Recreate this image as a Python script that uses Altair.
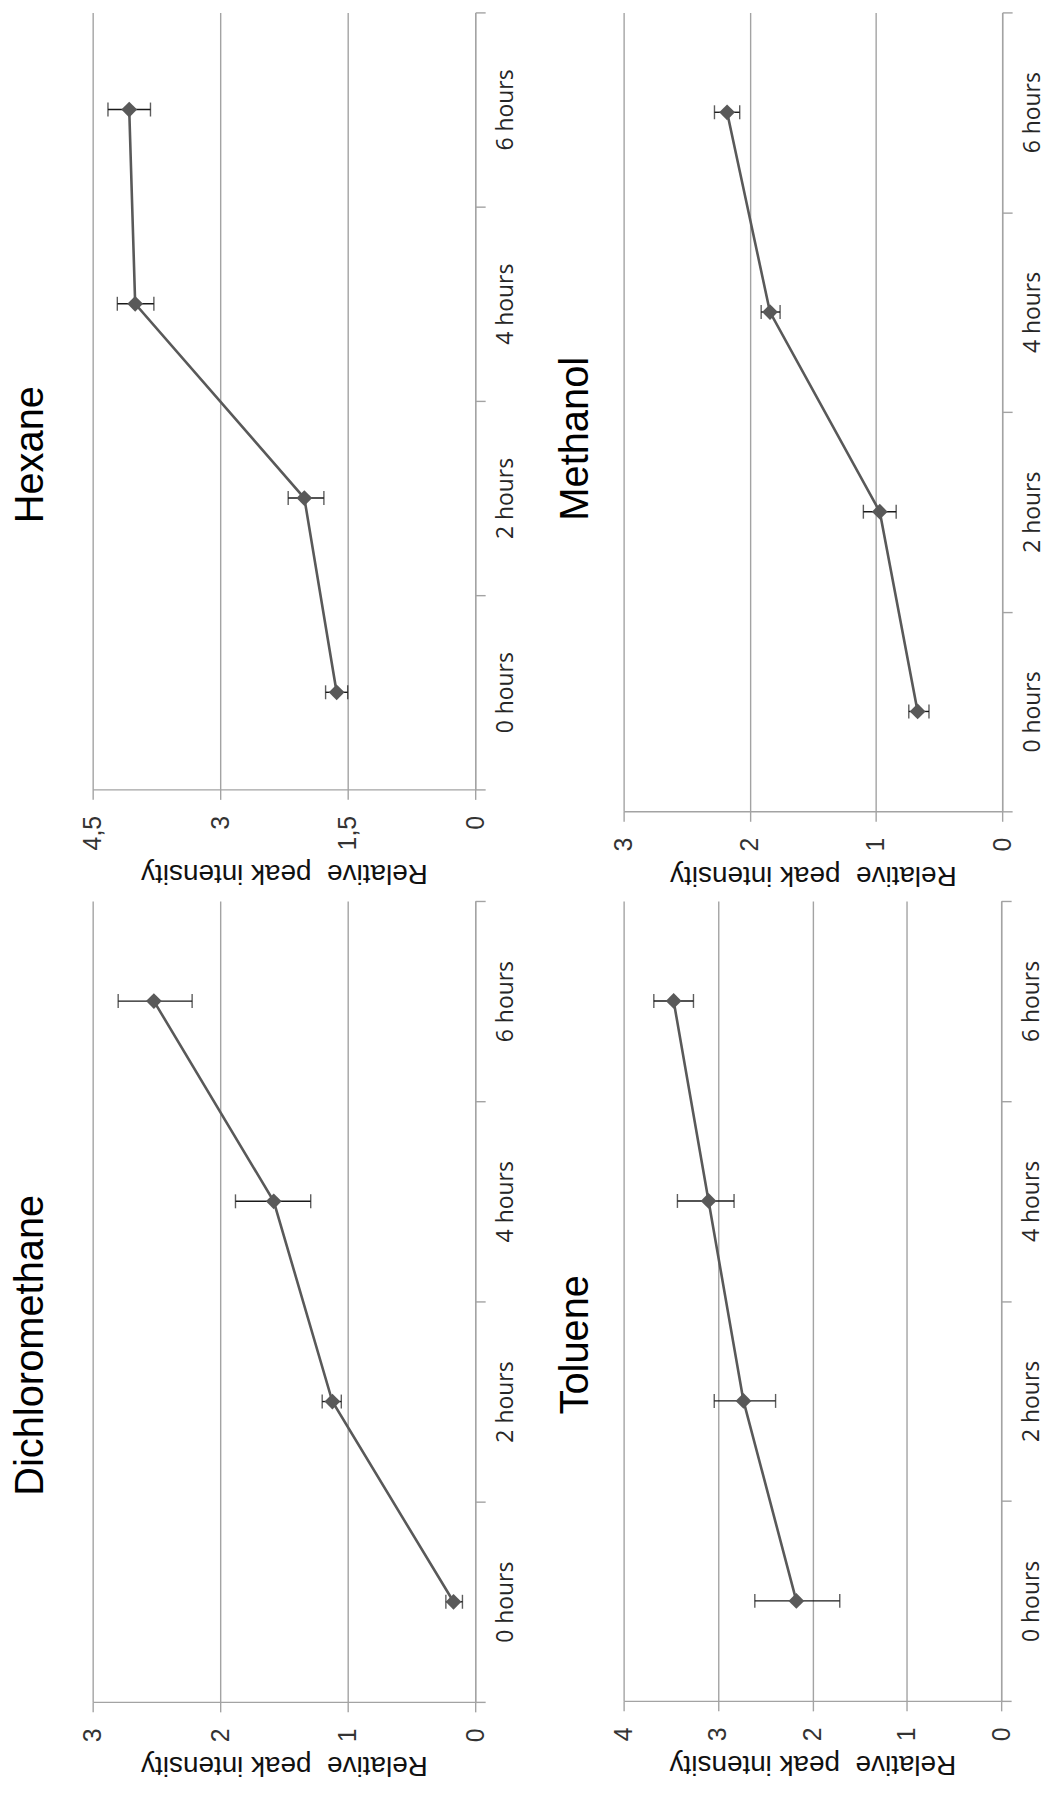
import altair as alt
import pandas as pd

# ---------------- data ----------------
hours = ["0 hours", "2 hours", "4 hours", "6 hours"]

hexane_mean = [1.63, 2.01, 4.00, 4.07]
hexane_lo = [1.50, 1.78, 3.78, 3.82]
hexane_hi = [1.76, 2.20, 4.21, 4.32]
hexane_ticks = [0, 1.5, 3, 4.5]

methanol_mean = [0.67, 0.97, 1.84, 2.18]
methanol_lo = [0.58, 0.84, 1.76, 2.08]
methanol_hi = [0.74, 1.10, 1.91, 2.28]
methanol_ticks = [0, 1, 2, 3]

dcm_mean = [0.17, 1.12, 1.58, 2.52]
dcm_lo = [0.10, 1.05, 1.29, 2.22]
dcm_hi = [0.23, 1.20, 1.88, 2.80]
dcm_ticks = [0, 1, 2, 3]

toluene_mean = [2.17, 2.73, 3.10, 3.47]
toluene_lo = [1.71, 2.39, 2.83, 3.26]
toluene_hi = [2.61, 3.04, 3.43, 3.68]
toluene_ticks = [0, 1, 2, 3, 4]

GRID = "#a3a3a3"
LINE = "#595959"
ERR = "#1a1a1a"


def panel(name, mean, lo, hi, ticks, w, h, t_offset, t_dx):
    df = pd.DataFrame({"hour": hours, "idx": list(range(len(hours))),
                       "mean": mean, "lo": lo, "hi": hi})
    xscale = alt.Scale(domain=[ticks[0], ticks[-1]], reverse=True, nice=False, zero=True)
    xaxis = alt.Axis(
        values=ticks,
        labelExpr="replace(format(datum.value, '.1~f'), '.', ',')",
        title="Relative\u00a0 peak intensity",
        grid=True, gridColor=GRID, gridWidth=1.4,
        domainColor=GRID, domainWidth=1.4, tickColor=GRID, tickWidth=1.4, tickSize=10,
        labelAngle=270, labelAlign="right", labelBaseline="middle", labelPadding=16,
        labelFont="Liberation Sans", labelFontSize=25, labelColor="#333333",
        labelFlush=False, labelOverlap=False,
        titleAngle=180, titleBaseline="bottom", titleFont="Liberation Sans",
        titleFontSize=28, titleFontWeight="normal", titleColor="#111111", titlePadding=9,
    )
    yaxis = alt.Axis(
        orient="right", title=None, grid=False,
        domainColor=GRID, domainWidth=1.4, tickColor=GRID, tickWidth=1.4, tickSize=10,
        tickBand="extent", labelAngle=270, labelAlign="center", labelBaseline="top",
        labelPadding=9, labelFont="Open Sans", labelFontSize=23, labelColor="#262626",
    )
    yscale = alt.Scale(type="band", paddingInner=0, paddingOuter=0)

    def X(field):
        return alt.X(f"{field}:Q", scale=xscale, axis=xaxis)

    y = alt.Y("hour:N", sort=hours[::-1], scale=yscale, axis=yaxis, bandPosition=0.5)

    base = alt.Chart(df)
    line = base.mark_line(color=LINE, strokeWidth=2.6).encode(x=X("mean"), y=y, order="idx:Q")
    err = base.mark_rule(color=ERR, strokeWidth=1.4).encode(x=X("lo"), x2="hi:Q", y=y)
    cap_lo = base.mark_tick(color=ERR, size=14, thickness=1.4).encode(x=X("lo"), y=y)
    cap_hi = base.mark_tick(color=ERR, size=14, thickness=1.4).encode(x=X("hi"), y=y)
    pts = base.mark_point(shape="diamond", filled=True, size=250, color=LINE, opacity=1).encode(x=X("mean"), y=y)

    return alt.layer(line, err, cap_lo, cap_hi, pts).properties(
        width=w, height=h,
        title=alt.TitleParams(text=name, orient="left", anchor="middle", angle=270,
                              font="Liberation Sans", fontSize=40, fontWeight="normal",
                              color="black", offset=t_offset, dx=t_dx),
    )


hexane = panel("Hexane", hexane_mean, hexane_lo, hexane_hi, hexane_ticks, 384, 780, 30, -54)
methanol = panel("Methanol", methanol_mean, methanol_lo, methanol_hi, methanol_ticks, 380, 802, 16, -27)
dcm = panel("Dichloromethane", dcm_mean, dcm_lo, dcm_hi, dcm_ticks, 384, 804, 30, -44)
toluene = panel("Toluene", toluene_mean, toluene_lo, toluene_hi, toluene_ticks, 379, 803, 16, -44)

chart = alt.concat(
    hexane, methanol, dcm, toluene, columns=2,
    spacing={"row": 12, "column": 38},
    padding={"left": 2, "top": 0, "right": 0, "bottom": 0},
).configure_view(strokeWidth=0)

chart.save("out.html", embed_options={"renderer": "svg", "actions": False})
